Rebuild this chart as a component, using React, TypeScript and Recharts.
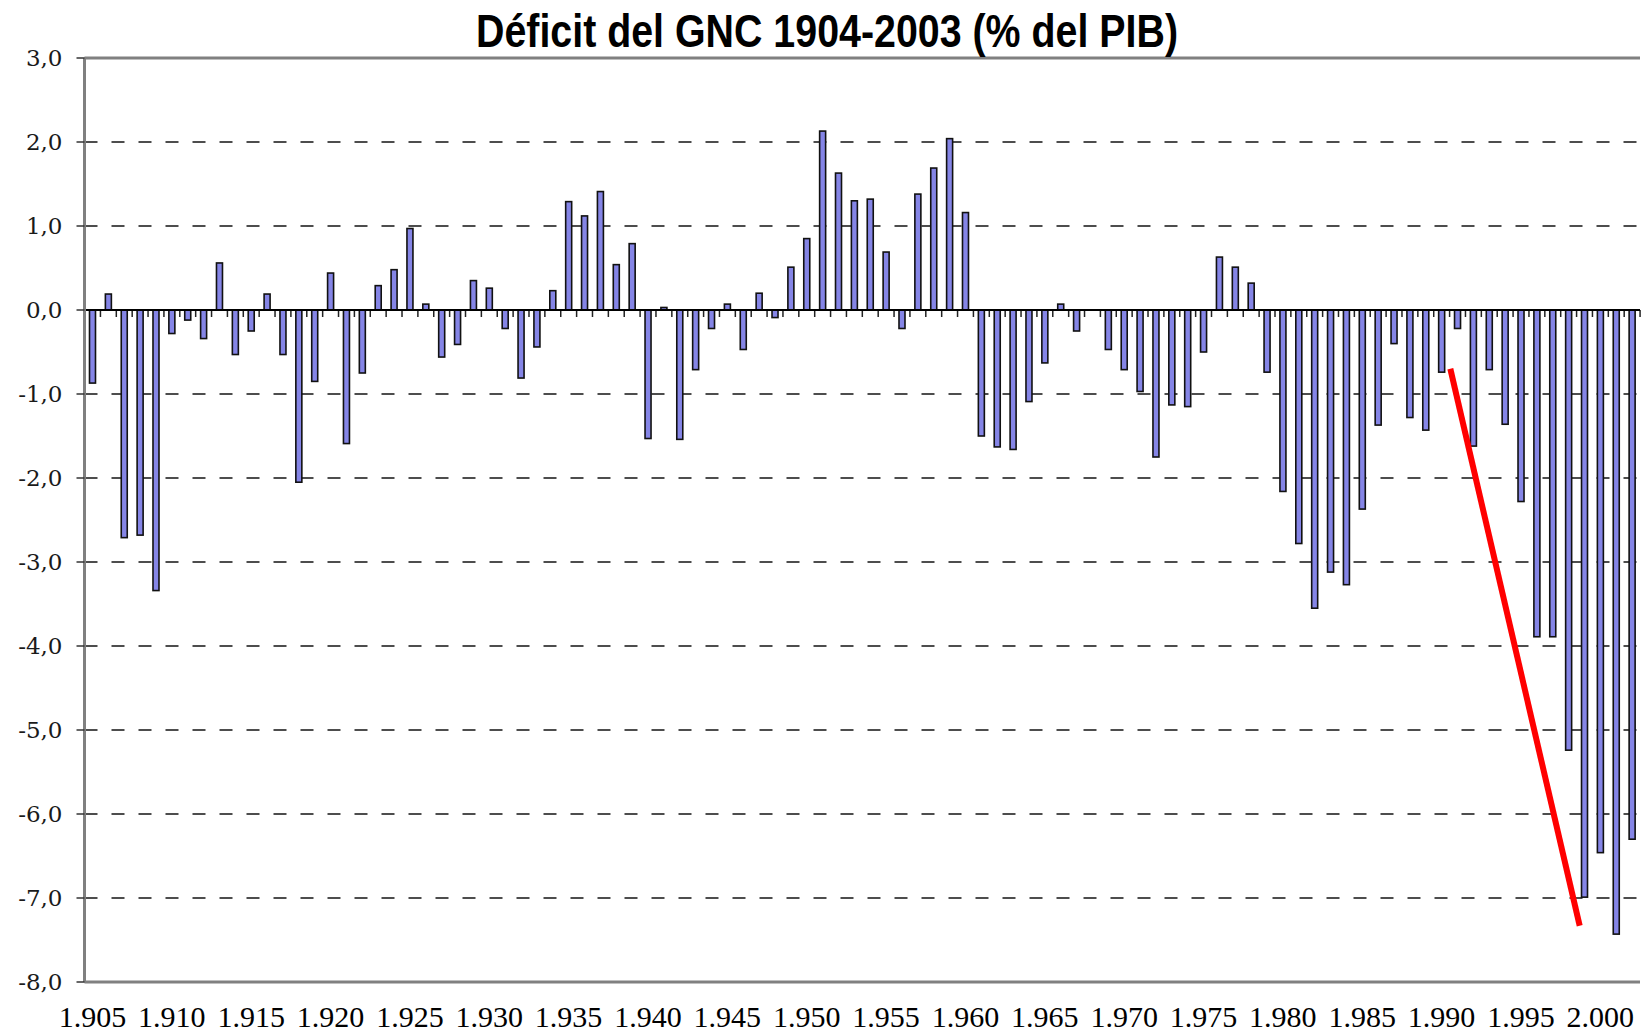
import { BarChart, Bar, XAxis, YAxis, CartesianGrid, ReferenceLine } from "recharts";

// Déficit del GNC (% del PIB). 2003 falls outside the visible frame.
const YEARS = [
  1905, 1906, 1907, 1908, 1909, 1910, 1911, 1912, 1913, 1914,
  1915, 1916, 1917, 1918, 1919, 1920, 1921, 1922, 1923, 1924,
  1925, 1926, 1927, 1928, 1929, 1930, 1931, 1932, 1933, 1934,
  1935, 1936, 1937, 1938, 1939, 1940, 1941, 1942, 1943, 1944,
  1945, 1946, 1947, 1948, 1949, 1950, 1951, 1952, 1953, 1954,
  1955, 1956, 1957, 1958, 1959, 1960, 1961, 1962, 1963, 1964,
  1965, 1966, 1967, 1968, 1969, 1970, 1971, 1972, 1973, 1974,
  1975, 1976, 1977, 1978, 1979, 1980, 1981, 1982, 1983, 1984,
  1985, 1986, 1987, 1988, 1989, 1990, 1991, 1992, 1993, 1994,
  1995, 1996, 1997, 1998, 1999, 2000, 2001, 2002,
];

const DEFICIT = [
  -0.87, 0.19, -2.71, -2.68, -3.34, -0.28, -0.12, -0.34, 0.56, -0.53,
  -0.25, 0.19, -0.53, -2.05, -0.85, 0.44, -1.59, -0.75, 0.29, 0.48,
  0.97, 0.07, -0.56, -0.41, 0.35, 0.26, -0.22, -0.81, -0.44, 0.23,
  1.29, 1.12, 1.41, 0.54, 0.79, -1.53, 0.03, -1.54, -0.71, -0.22,
  0.07, -0.47, 0.2, -0.09, 0.51, 0.85, 2.13, 1.63, 1.3, 1.32,
  0.69, -0.22, 1.38, 1.69, 2.04, 1.16, -1.5, -1.63, -1.66, -1.09,
  -0.63, 0.07, -0.25, 0, -0.47, -0.71, -0.97, -1.75, -1.13, -1.15,
  -0.5, 0.63, 0.51, 0.32, -0.74, -2.16, -2.78, -3.55, -3.12, -3.27,
  -2.37, -1.37, -0.4, -1.28, -1.43, -0.74, -0.22, -1.62, -0.71, -1.36,
  -2.28, -3.89, -3.89, -5.24, -6.99, -6.46, -7.43, -6.3,
];

const X_TICKS = [
  1905, 1910, 1915, 1920, 1925, 1930, 1935, 1940, 1945, 1950,
  1955, 1960, 1965, 1970, 1975, 1980, 1985, 1990, 1995, 2000,
];
const Y_TICKS = [3, 2, 1, 0, -1, -2, -3, -4, -5, -6, -7, -8];

// hand-drawn red trend stroke (year, value) endpoints
const TREND_X = [1990.55, 1998.7];
const TREND_Y = [-0.7, -7.33];

const data = YEARS.map((year, i) => ({ year, deficit: DEFICIT[i] }));

const W = 1642;
const H = 1034;
const Y_AXIS_W = 84.5;
const MARGIN_R = 2;
const STEP = (W - Y_AXIS_W - MARGIN_R) / YEARS.length;

const fmtY = (v: number) => v.toFixed(1).replace(".", ",");
const fmtX = (v: number) => (v / 1000).toFixed(3);

const YTick = ({ x, y, payload }: any) => (
  <text
    x={x}
    y={y}
    dy={8}
    textAnchor="end"
    fontFamily="DejaVu Serif"
    fontSize={23}
    fill="#1a1a1a"
  >
    {fmtY(payload.value)}
  </text>
);

const XTick = ({ x, y, payload }: any) => (
  <text
    x={x}
    y={y}
    dy={45}
    textAnchor="middle"
    fontFamily="Liberation Serif"
    fontSize={30}
    fill="#000"
  >
    {fmtX(payload.value)}
  </text>
);

// bar plus the small category tick hanging under the zero line
const DeficitBar = (props: any) => {
  const { x, y, width, height, payload } = props;
  const top = Math.min(y, y + height);
  const h = Math.abs(height);
  const base = payload.deficit >= 0 ? top + h : top;
  const tx = x + width / 2 + STEP / 2;
  return (
    <g>
      {h > 0.5 && (
        <rect
          x={x}
          y={top}
          width={width}
          height={h}
          fill="#8585e6"
          stroke="#111"
          strokeWidth={1.6}
        />
      )}
      <line x1={tx} x2={tx} y1={base} y2={base + 7} stroke="#222" strokeWidth={1.5} />
    </g>
  );
};

export default function App() {
  return (
    <div
      style={{
        position: "fixed",
        top: 0,
        left: 0,
        width: W,
        height: H,
        overflow: "hidden",
        background: "#fff",
      }}
    >
      <svg width={W} height={60} style={{ position: "absolute", top: 0, left: 0, zIndex: 2 }}>
        <text
          x={827}
          y={47}
          textAnchor="middle"
          fontFamily="Liberation Sans, Arial, sans-serif"
          fontWeight="bold"
          fontSize={47}
          textLength={702}
          lengthAdjust="spacingAndGlyphs"
          fill="#000"
        >
          Déficit del GNC 1904-2003 (% del PIB)
        </text>
      </svg>
      <BarChart
        width={W}
        height={H}
        data={data}
        margin={{ top: 58, right: MARGIN_R, bottom: 0, left: 0 }}
      >
        <CartesianGrid
          vertical={false}
          stroke="#4d4d4d"
          strokeWidth={2}
          strokeDasharray="13 14"
        />
        <XAxis
          dataKey="year"
          type="number"
          domain={[1904.5, 2002.5]}
          ticks={X_TICKS}
          interval={0}
          height={52}
          tickSize={0}
          tickMargin={0}
          tickLine={false}
          axisLine={{ stroke: "#808080", strokeWidth: 3 }}
          tick={<XTick />}
        />
        <YAxis
          type="number"
          domain={[-8, 3]}
          ticks={Y_TICKS}
          interval={0}
          width={Y_AXIS_W}
          tickSize={8}
          tickMargin={14}
          tickLine={{ stroke: "#333", strokeWidth: 1.5 }}
          axisLine={{ stroke: "#808080", strokeWidth: 3 }}
          tick={<YTick />}
        />
        <ReferenceLine y={3} stroke="#808080" strokeWidth={3} />
        <Bar
          dataKey="deficit"
          barSize={6}
          shape={<DeficitBar />}
          isAnimationActive={false}
        />
        <ReferenceLine y={0} stroke="#000" strokeWidth={2} />
        <ReferenceLine
          segment={[
            { x: TREND_X[0], y: TREND_Y[0] },
            { x: TREND_X[1], y: TREND_Y[1] },
          ]}
          stroke="#ff0000"
          strokeWidth={6}
        />
      </BarChart>
    </div>
  );
}
